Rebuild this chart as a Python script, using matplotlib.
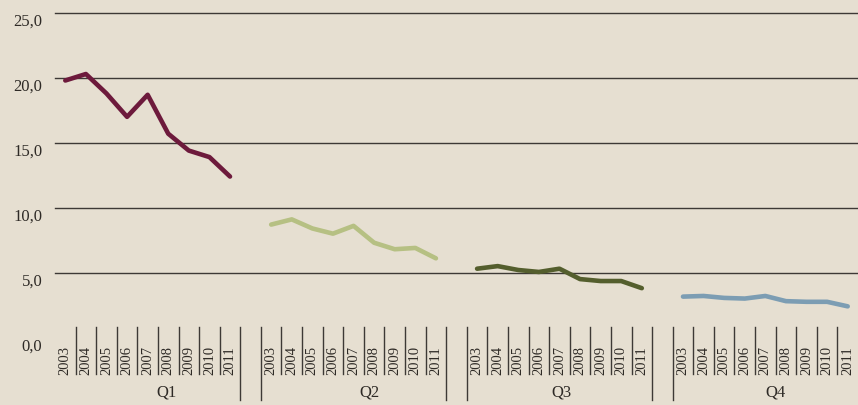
import matplotlib
matplotlib.use("Agg")
import matplotlib.pyplot as plt
from matplotlib.transforms import ScaledTranslation

# ---- data ----
years = ["2003", "2004", "2005", "2006", "2007", "2008", "2009", "2010", "2011"]
groups = ["Q1", "Q2", "Q3", "Q4"]
q1 = [19.8, 20.3, 18.8, 17.0, 18.7, 15.7, 14.4, 13.9, 12.4]
q2 = [8.7, 9.1, 8.4, 8.0, 8.6, 7.3, 6.8, 6.9, 6.1]
q3 = [5.3, 5.5, 5.2, 5.05, 5.3, 4.5, 4.35, 4.35, 3.8]
q4 = [3.15, 3.2, 3.05, 3.0, 3.2, 2.8, 2.75, 2.75, 2.4]
series = [q1, q2, q3, q4]
ytick_vals = [0, 5, 10, 15, 20, 25]
ytick_labels = ["0,0", "5,0", "10,0", "15,0", "20,0", "25,0"]

colors = ["#6d1a3c", "#b6c083", "#545e2d", "#7c9db3"]
bg = "#e6dfd1"
gridc = "#3d3935"
textc = "#2e2a26"

W, H = 858, 406
fig = plt.figure(figsize=(W / 100, H / 100), dpi=100, facecolor=bg)
plt.rcParams['font.family'] = ['Liberation Serif', 'DejaVu Serif']

left_px, right_px = 55, 858
top_px, bot_px = 14, 338.5
ax = fig.add_axes([left_px / W, (H - bot_px) / H, (right_px - left_px) / W, (bot_px - top_px) / H])
ax.set_facecolor(bg)
for s in ax.spines.values():
    s.set_visible(False)

n = len(years)
step = n + 1
nslots = len(groups) * step - 1
ax.set_xlim(-0.5, nslots - 0.5)
ax.set_ylim(0, 25)

# gridlines
for v in ytick_vals[1:]:
    ax.axhline(v, color=gridc, lw=1.0, zorder=1, clip_on=False)

# lines
for g, vals in enumerate(series):
    xs = [g * step + i for i in range(n)]
    ax.plot(xs, vals, color=colors[g], lw=3.3, solid_capstyle='round',
            solid_joinstyle='round', zorder=3)

# y ticks
ax.set_yticks(ytick_vals)
ax.set_yticklabels(ytick_labels, fontsize=12, color=textc)
ax.tick_params(axis='y', length=0, pad=9)
for lab in ax.get_yticklabels():
    lab.set_transform(lab.get_transform() + ScaledTranslation(0, -6 / 100, fig.dpi_scale_trans))
ax.set_xticks([])

# category axis (multi-level)
tr = ax.get_xaxis_transform()
def yfrac(px):
    return (bot_px - px) / (bot_px - top_px)

y_top = yfrac(328)
y_year = yfrac(375)
y_grp = yfrac(401)
label_offsets = [0.92, 0.75, 0.11, 0.47]
for g, name in enumerate(groups):
    base = g * step
    for i in range(n - 1):
        x = base + i + 0.5
        ax.plot([x, x], [y_top, y_year], transform=tr, color=gridc, lw=1.0, clip_on=False)
    for x in (base - 0.5, base + n - 0.5):
        if -0.5 < x < nslots - 0.5:
            ax.plot([x, x], [y_top, y_grp], transform=tr, color=gridc, lw=1.0, clip_on=False)
    for i, yr in enumerate(years):
        ax.text(base + i, y_year, yr, transform=tr, rotation=90, ha='center', va='bottom',
                fontsize=10.5, color=textc, clip_on=False)
    ax.text(base + (n - 1) / 2 + label_offsets[g], yfrac(393), name, transform=tr,
            ha='center', va='center', fontsize=12, color=textc, clip_on=False)

fig.savefig("out.png", dpi=100, facecolor=bg)
